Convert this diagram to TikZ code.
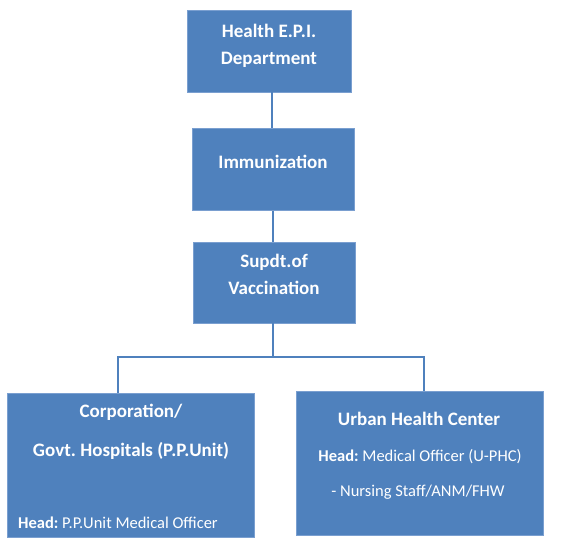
\documentclass[tikz,border=0pt]{standalone}
\usepackage{fontspec}
\setmainfont{Carlito}
\frenchspacing
\definecolor{boxblue}{HTML}{4F81BD}
\definecolor{edgeblue}{HTML}{7A9FD0}
\begin{document}
\begin{tikzpicture}[x=1pt,y=-1pt,
  orgbox/.style={draw=edgeblue,line width=0.8pt,fill=boxblue,inner sep=0pt},
  big/.style={text=white,font=\bfseries\fontsize{19}{22}\selectfont,inner sep=0pt},
  small/.style={text=white,font=\fontsize{16.5}{19}\selectfont,inner sep=0pt},
  link/.style={draw=boxblue,line width=2pt}]
\useasboundingbox (0,0) rectangle (561,558);
% boxes
\node[orgbox,minimum width=164,minimum height=82] (b1) at (269,51) {};
\node[orgbox,minimum width=162,minimum height=82] (b2) at (273,169.5) {};
\node[orgbox,minimum width=162,minimum height=81] (b3) at (274,282.5) {};
\node[orgbox,minimum width=247,minimum height=144] (b4) at (131,465) {};
\node[orgbox,minimum width=247,minimum height=144] (b5) at (419.5,463) {};
% texts
\node[big] (t1a) at (269,31) {Health E.P.I.};
\node[big] (t1b) at (269,60) {Department};
\node[big] (t2) at (273,162) {Immunization};
\node[big] (t3a) at (274,262) {Supdt.of};
\node[big] (t3b) at (274,288) {Vaccination};
\node[big] (t4a) at (131,412) {Corporation/};
\node[big] (t4b) at (131,451) {Govt. Hospitals (P.P.Unit)};
\node[small,anchor=west] (t4c) at (18,523) {\textbf{Head:} P.P.Unit Medical Officer};
\node[big] (t5a) at (419,419) {Urban Health Center};
\node[small] (t5b) at (420,457) {\textbf{Head:} Medical Officer (U-PHC)};
\node[small] (t5c) at (418,492) {- Nursing Staff/ANM/FHW};
% connectors
\coordinate (j) at (273,357);
\coordinate (jl) at (118,357);
\coordinate (jr) at (424,357);
\draw[link] (b1.south -| 272,0) -- (b2.north -| 272,0);
\draw[link] (b2.south -| 273,0) -- (b3.north -| 273,0);
\draw[link] (b3.south -| j) -- (j);
\draw[link] (b4.north -| jl) -- (jl) -- (jr) -- (b5.north -| jr);
\end{tikzpicture}
\end{document}
